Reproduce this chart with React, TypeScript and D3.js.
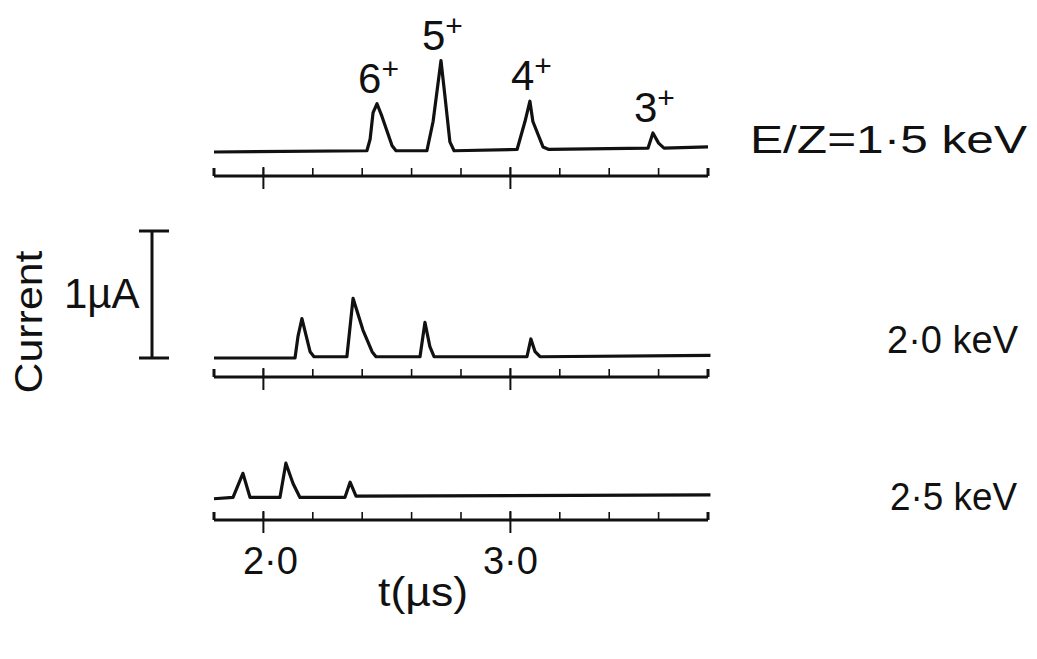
import React from 'react';
import * as d3 from 'd3';

// time-of-flight traces, [t (µs), current (µA)]
const trace15: [number, number][] = [
  [1.8, 0], [2.419, 0.01], [2.432, 0.1], [2.444, 0.31], [2.46, 0.38], [2.48, 0.28],
  [2.521, 0.05], [2.537, 0.01], [2.662, 0.01], [2.687, 0.24], [2.719, 0.72],
  [2.735, 0.44], [2.755, 0.08], [2.772, 0.01], [3.027, 0.02], [3.059, 0.24],
  [3.079, 0.4], [3.091, 0.24], [3.132, 0.04], [3.156, 0.02], [3.557, 0.03],
  [3.577, 0.15], [3.6, 0.07], [3.622, 0.03], [3.8, 0.04],
];
const trace20: [number, number][] = [
  [1.8, 0], [2.128, 0], [2.14, 0.17], [2.156, 0.31], [2.189, 0.05], [2.205, 0.01],
  [2.338, 0.01], [2.363, 0.47], [2.403, 0.22], [2.44, 0.05], [2.456, 0.01],
  [2.634, 0.01], [2.654, 0.28], [2.674, 0.09], [2.691, 0.01], [3.067, 0.01],
  [3.083, 0.15], [3.1, 0.05], [3.12, 0.01], [3.81, 0.02],
];
const trace25: [number, number][] = [
  [1.8, 0.01], [1.877, 0.02], [1.917, 0.21], [1.946, 0.02], [1.962, 0.02], [2.067, 0.02],
  [2.091, 0.29], [2.12, 0.13], [2.148, 0.02], [2.33, 0.02], [2.351, 0.14],
  [2.375, 0.03], [3.81, 0.04],
];

const energyLabels = ['E/Z=1·5 keV', '2·0 keV', '2·5 keV'];

// charge states marked on the 1.5 keV trace
const chargeStates = ['6', '5', '4', '3'];
const chargeTimes = [2.46, 2.719, 3.079, 3.577];
const chargeHeights = [0.38, 0.72, 0.4, 0.15];

const minorTicks = [1.8, 2.0, 2.2, 2.4, 2.6, 2.8, 3.0, 3.2, 3.4, 3.6, 3.8];
const majorTicks = [2.0, 3.0];
const majorTickLabels = ['2·0', '3·0'];

const font = '"Liberation Sans", Arial, sans-serif';

function App() {
  const width = 1037;
  const height = 659;

  // time axis shared by the three rulers
  const x = d3.scaleLinear().domain([1.8, 3.8]).range([214, 708]);
  const unitPx = 127; // 1 µA

  const panels = [
    { data: trace15, base: 152, ruler: 176, label: energyLabels[0], lx: 1027, ly: 153, lw: 277 },
    { data: trace20, base: 358, ruler: 377, label: energyLabels[1], lx: 1018, ly: 353, lw: 131 },
    { data: trace25, base: 500, ruler: 520, label: energyLabels[2], lx: 1017, ly: 510, lw: 127 },
  ];

  const yFor = (base: number) =>
    d3.scaleLinear().domain([0, 1]).range([base, base - unitPx]);

  const yMid = yFor(panels[1].base);
  const yTop = yFor(panels[0].base);

  return (
    <svg
      width={width}
      height={height}
      style={{ position: 'absolute', left: 0, top: 0, background: '#fff' }}
      fontFamily={font}
    >
      {panels.map((p, i) => {
        const y = yFor(p.base);
        const line = d3
          .line<[number, number]>()
          .x((d) => x(d[0]))
          .y((d) => y(d[1]));
        return (
          <g key={i}>
            <path
              d={line(p.data) || ''}
              fill="none"
              stroke="#111"
              strokeWidth={3.2}
              strokeLinejoin="round"
            />
            {/* ruler */}
            <line
              x1={x(1.8)}
              x2={x(3.8)}
              y1={p.ruler}
              y2={p.ruler}
              stroke="#111"
              strokeWidth={3}
            />
            {minorTicks.map((t) => (
              <line
                key={t}
                x1={x(t)}
                x2={x(t)}
                y1={p.ruler - 8}
                y2={p.ruler}
                stroke="#111"
                strokeWidth={t === 1.8 || t === 3.8 ? 3 : 1.6}
              />
            ))}
            {majorTicks.map((t) => (
              <line
                key={'M' + t}
                x1={x(t)}
                x2={x(t)}
                y1={p.ruler - 9}
                y2={p.ruler + 13}
                stroke="#111"
                strokeWidth={2}
              />
            ))}
            <text
              x={p.lx}
              y={p.ly}
              textAnchor="end"
              fontSize={38}
              textLength={p.lw}
              lengthAdjust="spacingAndGlyphs"
              fill="#111"
            >
              {p.label}
            </text>
          </g>
        );
      })}

      {/* charge state labels */}
      {chargeStates.map((c, i) => (
        <text
          key={c}
          x={x(chargeTimes[i]) - 19}
          y={yTop(chargeHeights[i]) - 11}
          fontSize={42}
          fill="#111"
        >
          {c}
          <tspan fontSize={30} dy={-14}>
            +
          </tspan>
        </text>
      ))}

      {/* 1 µA scale bar */}
      <g stroke="#111" strokeWidth={3}>
        <line x1={152} x2={152} y1={yMid(0)} y2={yMid(1)} />
        <line x1={139} x2={169} y1={yMid(1)} y2={yMid(1)} />
        <line x1={139} x2={169} y1={yMid(0)} y2={yMid(0)} />
      </g>
      <text x={64} y={308} fontSize={42} fill="#111">
        1µA
      </text>
      <text
        transform="translate(42,322) rotate(-90)"
        textAnchor="middle"
        fontSize={39}
        textLength={143}
        lengthAdjust="spacingAndGlyphs"
        fill="#111"
      >
        Current
      </text>

      {/* time labels */}
      {majorTicks.map((t, i) => (
        <text
          key={t}
          x={x(t) + (i === 0 ? 7 : 0)}
          y={574}
          textAnchor="middle"
          fontSize={38}
          textLength={55}
          lengthAdjust="spacingAndGlyphs"
          fill="#111"
        >
          {majorTickLabels[i]}
        </text>
      ))}
      <text
        x={423}
        y={606}
        textAnchor="middle"
        fontSize={40}
        textLength={90}
        lengthAdjust="spacingAndGlyphs"
        fill="#111"
      >
        t(µs)
      </text>
    </svg>
  );
}

export default App;
